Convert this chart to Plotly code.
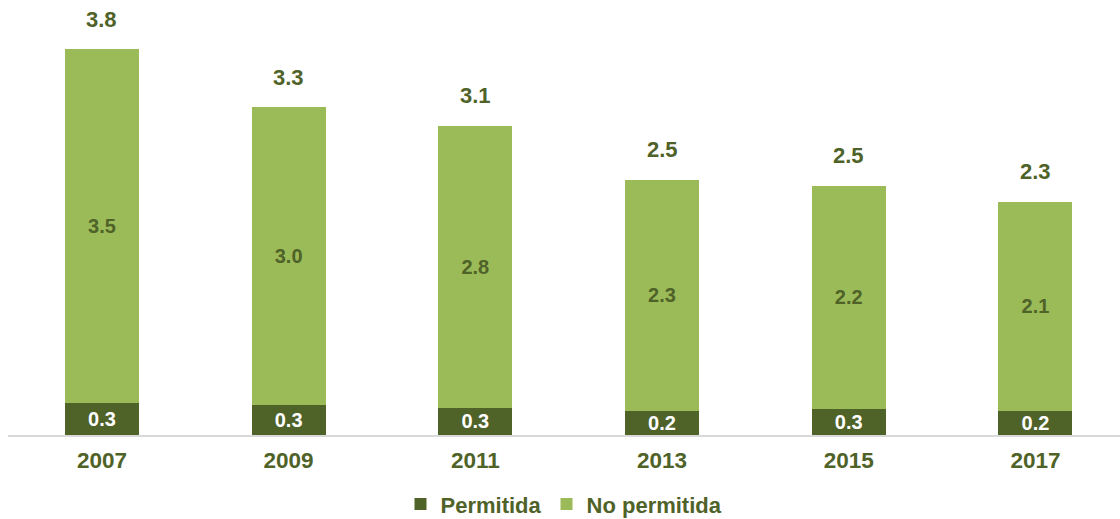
import plotly.graph_objects as go

years = ["2007", "2009", "2011", "2013", "2015", "2017"]
permitida = [0.32, 0.30, 0.27, 0.24, 0.26, 0.24]
no_permitida = [3.52, 2.96, 2.81, 2.30, 2.22, 2.08]
totals = [round(a + b, 2) for a, b in zip(permitida, no_permitida)]

DARK = "#4F6228"
LIGHT = "#9BBB59"
FONT = "Liberation Sans"

fig = go.Figure()
fig.add_trace(go.Bar(
    x=years, y=permitida, name="Permitida",
    marker=dict(color=DARK, line=dict(width=0)),
    texttemplate="%{y:.1f}", textposition="inside", insidetextanchor="middle",
    constraintext="none",
    textfont=dict(family=FONT, size=20, color="white", weight="bold"),
))
fig.add_trace(go.Bar(
    x=years, y=no_permitida, name="No permitida",
    marker=dict(color=LIGHT, line=dict(width=0)),
    texttemplate="%{y:.1f}", textposition="inside", insidetextanchor="middle",
    constraintext="none",
    textfont=dict(family=FONT, size=20, color=DARK, weight="bold"),
))

for i, t in enumerate(totals):
    fig.add_annotation(x=i, xref="x", y=t, yref="y", text=f"{t:.1f}", showarrow=False,
                       yanchor="middle", yshift=30,
                       font=dict(family=FONT, size=22, color=DARK, weight="bold"))

fig.update_layout(
    barmode="stack", bargap=0.604,
    width=1120, height=519,
    margin=dict(l=8, r=0, t=3, b=84, autoexpand=False),
    plot_bgcolor="white", paper_bgcolor="white",
    showlegend=True,
    legend=dict(orientation="h", x=0.5, xanchor="center", y=-0.16, yanchor="middle",
                font=dict(family=FONT, size=22, color=DARK, weight="bold"),
                traceorder="normal"),
    xaxis=dict(type="category", range=[-0.503, 5.453], showline=True, linecolor="#D9D9D9",
               linewidth=2, showgrid=False, zeroline=False, ticks="", ticklabelstandoff=4,
               automargin=False,
               tickfont=dict(family=FONT, size=22.5, color=DARK, weight="bold")),
    yaxis=dict(range=[0, 4.3], visible=False, showgrid=False, zeroline=False, automargin=False),
)

fig.write_html("out.html", config={"displayModeBar": False},
               post_script="document.body.style.margin='0';document.body.style.overflow='hidden';")
